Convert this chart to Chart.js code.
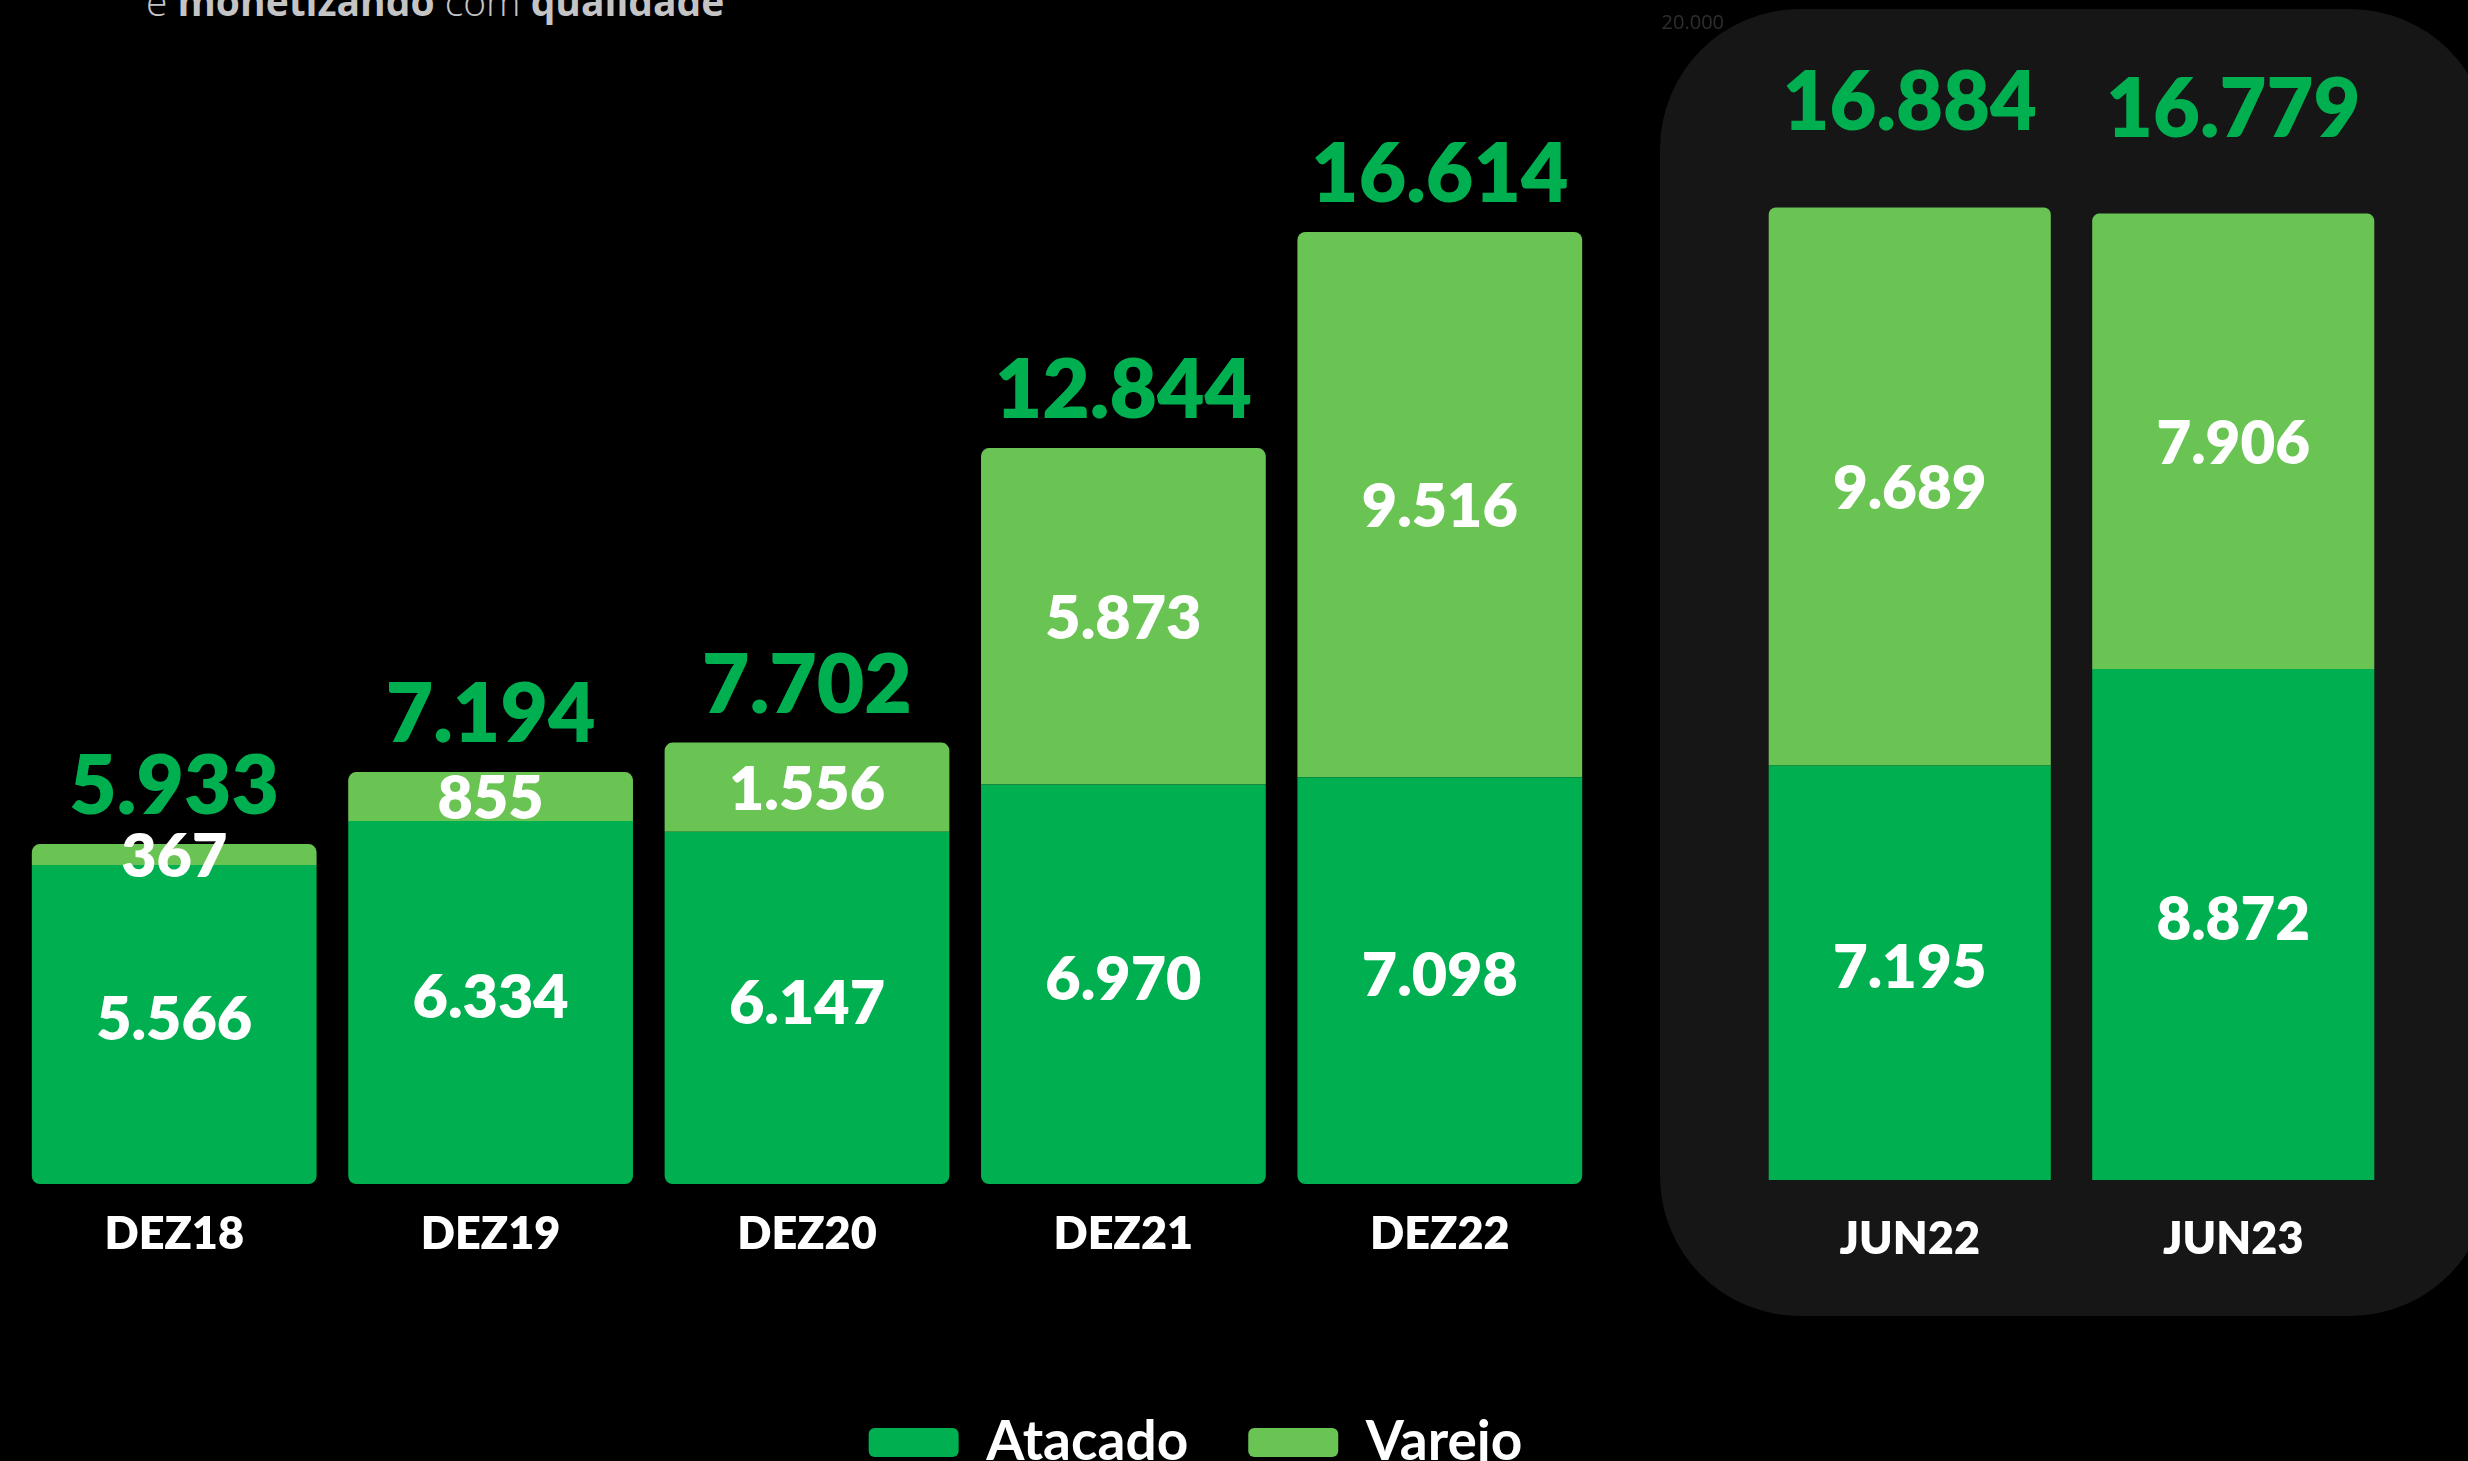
<!DOCTYPE html>
<html><head><meta charset="utf-8">
<script src="https://cdn.jsdelivr.net/npm/chart.js@4.4.0/dist/chart.umd.min.js"></script>
<style>
html,body{margin:0;padding:0;background:#000;width:2468px;height:1461px;overflow:hidden;position:relative;}
#subtitle{position:absolute;left:146px;top:-19px;font-family:'Open Sans';font-size:39px;line-height:40px;color:#c4c4c4;white-space:nowrap;font-weight:300;}
#subtitle b{font-weight:700;}
#panel{position:absolute;left:1660px;top:9px;width:830px;height:1307px;border-radius:140px;background:#161616;}
#leftWrap{position:absolute;left:16px;top:0;width:2359px;height:1480px;}
#rightWrap{position:absolute;left:1600px;top:0;width:868px;height:1316px;}
canvas{display:block;}
</style></head>
<body>
<div id="subtitle">e <b>monetizando</b> com <b>qualidade</b></div>
<div id="panel"></div>
<div id="leftWrap"><canvas id="cLeft"></canvas></div>
<div id="rightWrap"><canvas id="cRight"></canvas></div>
<script>
// ---- data ----
const categoriesAnual = ['DEZ18', 'DEZ19', 'DEZ20', 'DEZ21', 'DEZ22'];
const atacadoAnual = [5566, 6334, 6147, 6970, 7098];
const varejoAnual = [367, 855, 1556, 5873, 9516];
const totalAnual = [5933, 7194, 7702, 12844, 16614];

const categoriesSemestre = ['JUN22', 'JUN23'];
const atacadoSemestre = [7195, 8872];
const varejoSemestre = [9689, 7906];
const totalSemestre = [16884, 16779];

const seriesNames = ['Atacado', 'Varejo'];
const yMax = 20000;
const yStep = 5000;

// ---- styles ----
const GREEN_DARK = '#00AF50';
const GREEN_LIGHT = '#6AC453';
const TOTAL_GREEN = '#00B050';
const FONT = 'Lato';
const NUM_WEIGHT = '800';

const fmt = v => String(v).replace(/\B(?=(\d{3})+(?!\d))/g, '.');

const valueLabels = {
  id: 'valueLabels',
  afterDatasetsDraw(chart, args, opts) {
    const ctx = chart.ctx;
    ctx.save();
    ctx.textAlign = 'center';
    chart.data.datasets.forEach((ds, di) => {
      const meta = chart.getDatasetMeta(di);
      meta.data.forEach((bar, i) => {
        const p = bar.getProps(['x', 'y', 'base'], true);
        ctx.font = NUM_WEIGHT + ' ' + opts.innerSize + 'px ' + FONT;
        ctx.fillStyle = '#ffffff';
        ctx.textBaseline = 'middle';
        ctx.fillText(fmt(ds.data[i]), p.x, (p.y + p.base) / 2 + opts.shift[di]);
      });
    });
    const topMeta = chart.getDatasetMeta(chart.data.datasets.length - 1);
    topMeta.data.forEach((bar, i) => {
      const p = bar.getProps(['x', 'y'], true);
      ctx.font = NUM_WEIGHT + ' ' + opts.totalSize + 'px ' + FONT;
      ctx.fillStyle = TOTAL_GREEN;
      ctx.textBaseline = 'alphabetic';
      ctx.fillText(fmt(opts.totals[i]), p.x, p.y - opts.totalOffset);
    });
    ctx.restore();
  }
};

function draw() {
  new Chart(document.getElementById('cLeft'), {
    type: 'bar',
    data: {
      labels: categoriesAnual,
      datasets: [
        { label: seriesNames[0], data: atacadoAnual, backgroundColor: GREEN_DARK,
          borderRadius: {topLeft: 0, topRight: 0, bottomLeft: 8, bottomRight: 8}, borderSkipped: false,
          barPercentage: 0.9, categoryPercentage: 1 },
        { label: seriesNames[1], data: varejoAnual, backgroundColor: GREEN_LIGHT,
          borderRadius: {topLeft: 8, topRight: 8, bottomLeft: 0, bottomRight: 0}, borderSkipped: false,
          barPercentage: 0.9, categoryPercentage: 1 }
      ]
    },
    options: {
      responsive: true, maintainAspectRatio: false, animation: false,
      layout: {padding: {top: 38, left: 0, right: 0, bottom: 0}},
      scales: {
        x: { stacked: true, grid: {display: false}, border: {display: false},
             ticks: {color: '#ffffff', font: {family: FONT, weight: NUM_WEIGHT, size: 45}, padding: 15},
             afterFit(s) { s.height = 171; } },
        y: { stacked: true, position: 'right', min: 0, max: yMax,
             grid: {display: false}, border: {display: false}, ticks: {display: false},
             afterFit(s) { s.width = 777; } }
      },
      plugins: {
        legend: { display: true, position: 'bottom',
          labels: { color: '#ffffff', font: {family: FONT, weight: '700', size: 55},
                    boxWidth: 90, boxHeight: 29, padding: 60, useBorderRadius: true, borderRadius: 6 } },
        tooltip: {enabled: false},
        valueLabels: { totals: totalAnual, totalOffset: 30, innerSize: 61, totalSize: 82, shift: [-4, 3] }
      }
    },
    plugins: [valueLabels]
  });

  new Chart(document.getElementById('cRight'), {
    type: 'bar',
    data: {
      labels: categoriesSemestre,
      datasets: [
        { label: seriesNames[0], data: atacadoSemestre, backgroundColor: GREEN_DARK,
          borderRadius: 0, barPercentage: 0.872, categoryPercentage: 1 },
        { label: seriesNames[1], data: varejoSemestre, backgroundColor: GREEN_LIGHT,
          borderRadius: {topLeft: 7, topRight: 7, bottomLeft: 0, bottomRight: 0}, borderSkipped: false,
          barPercentage: 0.872, categoryPercentage: 1 }
      ]
    },
    options: {
      responsive: true, maintainAspectRatio: false, animation: false,
      layout: {padding: {top: 28, left: 0, right: 73, bottom: 0}},
      scales: {
        x: { stacked: true, grid: {display: false}, border: {display: false},
             ticks: {color: '#ffffff', font: {family: FONT, weight: NUM_WEIGHT, size: 45}, padding: 24},
             afterFit(s) { s.height = 136; } },
        y: { stacked: true, position: 'left', min: 0, max: yMax,
             grid: {display: false}, border: {display: false},
             ticks: {stepSize: yStep, color: '#2e2e2e', font: {family: 'Open Sans', size: 20}, padding: 16,
                     labelOffset: -5, callback: v => (v === yMax ? fmt(v) : '')},
             afterFit(s) { s.width = 148; } }
      },
      plugins: {
        legend: {display: false},
        tooltip: {enabled: false},
        valueLabels: { totals: totalSemestre, totalOffset: 77, innerSize: 60, totalSize: 81, shift: [-4, 3] }
      }
    },
    plugins: [valueLabels]
  });
}

const fontLoads = [
  document.fonts.load('700 45px Lato'),
  document.fonts.load('800 82px Lato'),
  document.fonts.load('20px "Open Sans"')
];
Promise.all(fontLoads).then(draw, draw);
</script>
</body></html>
